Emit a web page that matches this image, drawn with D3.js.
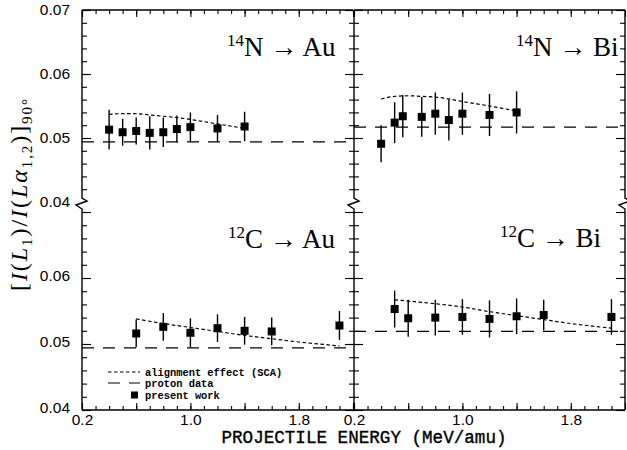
<!DOCTYPE html>
<html>
<head>
<meta charset="utf-8">
<script src="https://cdn.jsdelivr.net/npm/d3@7/dist/d3.min.js"></script>
<style>
  html, body { margin: 0; padding: 0; background: #fff; }
  svg { display: block; }
</style>
</head>
<body>
<svg id="chart" width="627" height="450"></svg>
<script>
// ---- data -------------------------------------------------------------
const xMajorLabels = [0.2, 1.0, 1.8];
const yLabelsUpper = [0.04, 0.05, 0.06, 0.07];
const yLabelsLower = [0.04, 0.05, 0.06];

// 14N -> Au
const energyNAu = [0.4, 0.5, 0.6, 0.7, 0.8, 0.9, 1.0, 1.2, 1.4];
const ratioNAu  = [0.0513, 0.0509, 0.0511, 0.0508, 0.0509, 0.0514, 0.0517, 0.0515, 0.0518];
const errNAu    = [0.0031, 0.0021, 0.0021, 0.0026, 0.0023, 0.0021, 0.0023, 0.0021, 0.0023];
const scaEnergyNAu = [0.4, 0.5, 0.6, 0.7, 0.8, 0.9, 1.0, 1.2, 1.4];
const scaRatioNAu  = [0.0537, 0.0538, 0.0538, 0.0536, 0.0534, 0.0532, 0.0529, 0.0522, 0.0515];
const protonNAu = 0.0494;

// 14N -> Bi
const energyNBi = [0.4, 0.5, 0.56, 0.7, 0.8, 0.9, 1.0, 1.2, 1.4];
const ratioNBi  = [0.0491, 0.0524, 0.0534, 0.0533, 0.0538, 0.0528, 0.0538, 0.0536, 0.0540];
const errNBi    = [0.0029, 0.0032, 0.0033, 0.0031, 0.0033, 0.0032, 0.0033, 0.0033, 0.0033];
const scaEnergyNBi = [0.4, 0.5, 0.6, 0.7, 0.8, 0.9, 1.0, 1.2, 1.4];
const scaRatioNBi  = [0.0561, 0.0565, 0.0566, 0.0565, 0.0564, 0.0561, 0.0557, 0.0550, 0.0542];
const protonNBi = 0.0517;

// 12C -> Au
const energyCAu = [0.6, 0.8, 1.0, 1.2, 1.4, 1.6, 2.1];
const ratioCAu  = [0.0516, 0.0526, 0.0517, 0.0524, 0.0520, 0.0519, 0.0528];
const errCAu    = [0.0021, 0.0021, 0.0022, 0.0021, 0.0021, 0.0021, 0.0022];
const scaEnergyCAu = [0.6, 0.8, 1.0, 1.2, 1.4, 1.6, 1.8, 2.0, 2.1];
const scaRatioCAu  = [0.0538, 0.0531, 0.0525, 0.0519, 0.0513, 0.0508, 0.0503, 0.0499, 0.0497];
const protonCAu = 0.0494;

// 12C -> Bi
const energyCBi = [0.5, 0.6, 0.8, 1.0, 1.2, 1.4, 1.6, 2.1];
const ratioCBi  = [0.0553, 0.0539, 0.0540, 0.0541, 0.0538, 0.0542, 0.0544, 0.0541];
const errCBi    = [0.0028, 0.0028, 0.0027, 0.0027, 0.0028, 0.0027, 0.0023, 0.0027];
const scaEnergyCBi = [0.5, 0.6, 0.8, 1.0, 1.2, 1.4, 1.6, 1.8, 2.1];
const scaRatioCBi  = [0.0567, 0.0565, 0.0561, 0.0556, 0.0549, 0.0543, 0.0537, 0.0531, 0.0524];
const protonCBi = 0.0519;

const legendLabels = ["alignment effect (SCA)", "proton data", "present work"];

// ---- layout -----------------------------------------------------------
const svg = d3.select("#chart");
const colX = [82, 354];          // left edges of the two columns
const colW = 271;
const xDomain = [0.2, 2.2];
const upper = { top: 10, bottom: 202, axisEnd: 198 };
const lower = { top: 212, bottom: 410, axisStart: 209 };

const yUpper = d3.scaleLinear().domain([0.04, 0.07]).range([upper.bottom, upper.top]);
const yLower = d3.scaleLinear().domain([0.04, 0.07]).range([lower.bottom, lower.top]);
const xScales = colX.map(x0 => d3.scaleLinear().domain(xDomain).range([x0, x0 + colW]));

const panels = [
  { col: 0, y: yUpper, sup: "14", rest: "N \u2192 Au", tx: 145, ty: 56,
    e: energyNAu, r: ratioNAu, err: errNAu, se: scaEnergyNAu, sr: scaRatioNAu, p: protonNAu },
  { col: 1, y: yUpper, sup: "14", rest: "N \u2192 Bi", tx: 162, ty: 56,
    e: energyNBi, r: ratioNBi, err: errNBi, se: scaEnergyNBi, sr: scaRatioNBi, p: protonNBi },
  { col: 0, y: yLower, sup: "12", rest: "C \u2192 Au", tx: 146, ty: 248,
    e: energyCAu, r: ratioCAu, err: errCAu, se: scaEnergyCAu, sr: scaRatioCAu, p: protonCAu },
  { col: 1, y: yLower, sup: "12", rest: "C \u2192 Bi", tx: 146, ty: 247,
    e: energyCBi, r: ratioCBi, err: errCBi, se: scaEnergyCBi, sr: scaRatioCBi, p: protonCBi }
];

const xMinor = d3.range(2, 23).map(i => i / 10);
const xMid = xMinor.filter(v => Math.abs(((v - 0.2) / 0.4) - Math.round((v - 0.2) / 0.4)) < 1e-6);
const yMinor = d3.range(20, 36).map(i => i * 0.002);
const yMajor = [0.04, 0.05, 0.06, 0.07];

const tickFont = "Liberation Sans, Arial, sans-serif";

function styleAxis(g) {
  g.select(".domain").remove();
  g.selectAll(".tick line").attr("stroke", "#000").attr("stroke-width", 1.1);
  g.selectAll(".tick text").attr("fill", "#000")
    .style("font-family", tickFont).style("font-size", "15.5px");
}

// ---- horizontal axes --------------------------------------------------
xScales.forEach(x => {
  // bottom axis
  const yb = lower.bottom;
  svg.append("g").attr("transform", `translate(0,${yb})`)
    .call(d3.axisBottom(x).tickValues(xMinor).tickSizeInner(-4).tickSizeOuter(0).tickFormat(""))
    .call(styleAxis);
  svg.append("g").attr("transform", `translate(0,${yb})`)
    .call(d3.axisBottom(x).tickValues(xMid).tickSizeInner(-7).tickSizeOuter(0).tickFormat(""))
    .call(styleAxis);
  svg.append("g").attr("transform", `translate(0,${yb})`)
    .call(d3.axisBottom(x).tickValues(xMajorLabels).tickSize(0).tickPadding(4).tickFormat(d3.format(".1f")))
    .call(styleAxis);
  svg.append("line").attr("x1", x.range()[0]).attr("x2", x.range()[1])
    .attr("y1", yb).attr("y2", yb).attr("stroke", "#000").attr("stroke-width", 1.4);

  // top axis
  const yt = upper.top;
  svg.append("g").attr("transform", `translate(0,${yt})`)
    .call(d3.axisTop(x).tickValues(xMinor).tickSizeInner(-4).tickSizeOuter(0).tickFormat(""))
    .call(styleAxis);
  svg.append("g").attr("transform", `translate(0,${yt})`)
    .call(d3.axisTop(x).tickValues(xMid).tickSizeInner(-7).tickSizeOuter(0).tickFormat(""))
    .call(styleAxis);
  svg.append("line").attr("x1", x.range()[0]).attr("x2", x.range()[1])
    .attr("y1", yt).attr("y2", yt).attr("stroke", "#000").attr("stroke-width", 1.4);
});

// ---- vertical axes (with break marks) ---------------------------------
const vAxisX = [colX[0], colX[1], colX[1] + colW];
vAxisX.forEach((ax, i) => {
  const z = d3.path();
  z.moveTo(ax, upper.top);
  z.lineTo(ax, upper.axisEnd);
  z.lineTo(ax + 5, upper.axisEnd + 3);
  z.lineTo(ax - 6, upper.axisEnd + 7);
  z.lineTo(ax, lower.axisStart);
  z.lineTo(ax, lower.bottom);
  svg.append("path").attr("d", z.toString()).attr("fill", "none")
    .attr("stroke", "#000").attr("stroke-width", 1.4);

  const wantsRight = i < 2;   // ticks pointing into a panel on the right
  const wantsLeft = i > 0;    // ticks pointing into a panel on the left
  [[yUpper, yMinor.filter(v => v > 0.0405)], [yLower, yMinor]].forEach(([ys, minors]) => {
    const majors = yMajor.filter(v => minors.some(m => Math.abs(m - v) < 1e-9));
    if (wantsRight) {
      svg.append("g").attr("transform", `translate(${ax},0)`)
        .call(d3.axisLeft(ys).tickValues(minors).tickSizeInner(-5).tickSizeOuter(0).tickFormat(""))
        .call(styleAxis);
      svg.append("g").attr("transform", `translate(${ax},0)`)
        .call(d3.axisLeft(ys).tickValues(majors).tickSizeInner(-9).tickSizeOuter(0).tickFormat(""))
        .call(styleAxis);
    }
    if (wantsLeft) {
      svg.append("g").attr("transform", `translate(${ax},0)`)
        .call(d3.axisRight(ys).tickValues(minors).tickSizeInner(-5).tickSizeOuter(0).tickFormat(""))
        .call(styleAxis);
      svg.append("g").attr("transform", `translate(${ax},0)`)
        .call(d3.axisRight(ys).tickValues(majors).tickSizeInner(-9).tickSizeOuter(0).tickFormat(""))
        .call(styleAxis);
    }
  });
});

// y tick labels on the left
svg.append("g").attr("transform", `translate(${colX[0]},0)`)
  .call(d3.axisLeft(yUpper).tickValues(yLabelsUpper).tickSize(0).tickPadding(12).tickFormat(d3.format(".2f")))
  .call(styleAxis);
svg.append("g").attr("transform", `translate(${colX[0]},-2)`)
  .call(d3.axisLeft(yLower).tickValues(yLabelsLower).tickSize(0).tickPadding(12).tickFormat(d3.format(".2f")))
  .call(styleAxis);

// ---- panel contents ---------------------------------------------------
const scaLine = (x, y) => d3.line().x(d => x(d[0])).y(d => y(d[1])).curve(d3.curveMonotoneX);

panels.forEach(pn => {
  const x = xScales[pn.col];
  const y = pn.y;
  const g = svg.append("g");

  // proton reference (long dashes)
  g.append("line")
    .attr("x1", x(xDomain[0])).attr("x2", x(xDomain[1]))
    .attr("y1", y(pn.p)).attr("y2", y(pn.p))
    .attr("stroke", "#000").attr("stroke-width", 1.2)
    .attr("stroke-dasharray", "12,9");

  // alignment effect (short dashes)
  g.append("path")
    .datum(d3.zip(pn.se, pn.sr))
    .attr("d", scaLine(x, y))
    .attr("fill", "none").attr("stroke", "#000").attr("stroke-width", 1.2)
    .attr("stroke-dasharray", "3.5,2.5");

  const pts = pn.e.map((e, i) => ({ e, r: pn.r[i], s: pn.err[i] }));

  // error bars
  g.selectAll(".eb").data(pts).enter().append("line")
    .attr("x1", d => x(d.e)).attr("x2", d => x(d.e))
    .attr("y1", d => y(d.r - d.s)).attr("y2", d => y(d.r + d.s))
    .attr("stroke", "#000").attr("stroke-width", 1.4);

  // measured points
  g.selectAll(".pt").data(pts).enter().append("rect")
    .attr("x", d => x(d.e) - 4).attr("y", d => y(d.r) - 4)
    .attr("width", 8).attr("height", 8).attr("fill", "#000");

  // panel title
  const t = svg.append("text")
    .attr("x", x.range()[0] + pn.tx).attr("y", pn.ty)
    .attr("fill", "#000")
    .style("font-family", "Liberation Serif, Times New Roman, serif");
  t.append("tspan").attr("font-size", "17px").attr("dy", -10).text(pn.sup);
  t.append("tspan").attr("font-size", "27px").attr("dy", 10).text(pn.rest);
});

// ---- legend -----------------------------------------------------------
const lg = svg.append("g").style("font-family", "Liberation Mono, Courier New, monospace")
  .style("font-size", "10.4px").style("font-weight", "bold");
const lgX0 = 108, lgX1 = 140, lgText = 145;
const lgY = [372, 383, 395];
lg.append("line").attr("x1", lgX0).attr("x2", lgX1).attr("y1", lgY[0]).attr("y2", lgY[0])
  .attr("stroke", "#000").attr("stroke-width", 1.2).attr("stroke-dasharray", "3.5,2.5");
lg.append("line").attr("x1", lgX0).attr("x2", lgX1).attr("y1", lgY[1]).attr("y2", lgY[1])
  .attr("stroke", "#000").attr("stroke-width", 1.2).attr("stroke-dasharray", "12,9");
lg.append("rect").attr("x", 131).attr("y", lgY[2] - 3.5).attr("width", 7).attr("height", 7).attr("fill", "#000");
legendLabels.forEach((s, i) => {
  lg.append("text").attr("x", lgText).attr("y", lgY[i] + 3.5).attr("fill", "#000").text(s);
});

// ---- axis titles ------------------------------------------------------
svg.append("text")
  .attr("x", 364).attr("y", 443).attr("text-anchor", "middle")
  .attr("fill", "#000").attr("stroke", "#000").attr("stroke-width", 0.35)
  .style("font-family", "Liberation Mono, Courier New, monospace")
  .style("font-size", "17.6px")
  .text("PROJECTILE ENERGY (MeV/amu)");

const yt = svg.append("text")
  .attr("transform", "translate(27,195) rotate(-90)")
  .attr("text-anchor", "middle").attr("fill", "#000")
  .attr("textLength", 192).attr("lengthAdjust", "spacing")
  .style("font-family", "Liberation Serif, Times New Roman, serif")
  .style("font-size", "24px");
const parts = [
  ["[", "n", 0], ["I", "i", 0], ["(", "n", 0], ["L", "i", 0], ["1", "n", 1], [")", "n", 0],
  ["/", "n", 0], ["I", "i", 0], ["(", "n", 0], ["L", "i", 0], ["\u03B1", "i", 0], ["1,2", "n", 1],
  [")", "n", 0], ["]", "n", 0], ["90\u00B0", "n", 1]
];
let shifted = false;
parts.forEach(([s, st, sub]) => {
  const ts = yt.append("tspan").text(s);
  if (st === "i") ts.style("font-style", "italic");
  if (sub) {
    ts.style("font-size", "15px");
    ts.attr("dy", shifted ? 0 : 5);
    shifted = true;
  } else {
    ts.attr("dy", shifted ? -5 : 0);
    shifted = false;
  }
});
</script>
</body>
</html>
